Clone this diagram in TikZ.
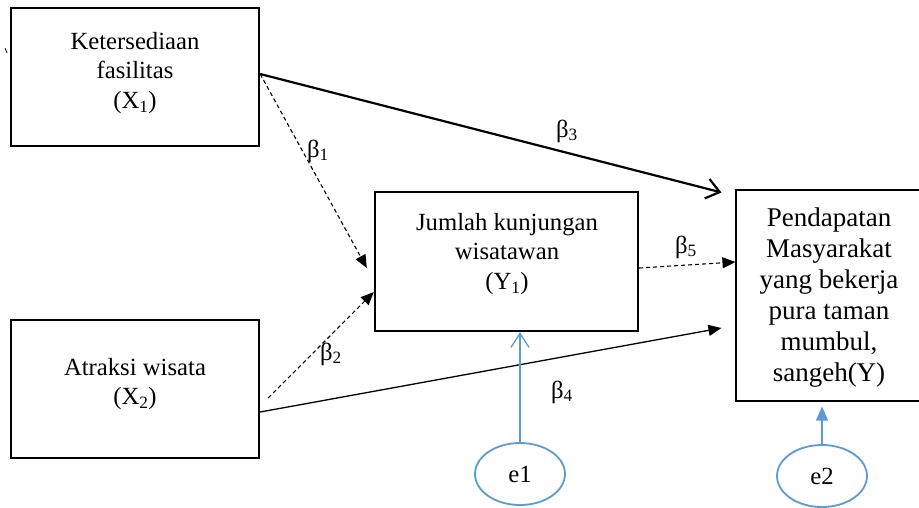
\documentclass[tikz,border=0pt]{standalone}
\usepackage{fontspec}
\setmainfont{Liberation Serif}
\usetikzlibrary{arrows.meta,shapes.geometric,calc}
\definecolor{errblue}{HTML}{5B9BD5}
\begin{document}
\begin{tikzpicture}[x=1pt,y=-1pt,
  box/.style={draw,line width=2.4pt,inner sep=0pt},
  thinbox/.style={draw,line width=1.1pt,inner sep=0pt},
  lbl/.style={align=center,inner sep=0pt,font=\fontsize{24.7}{29.5}\selectfont},
  biglbl/.style={align=center,inner sep=0pt,font=\fontsize{27}{31}\selectfont},
  coef/.style={inner sep=0pt,font=\fontsize{24.7}{29}\selectfont},
  errnode/.style={draw=errblue,ellipse,line width=1.8pt,inner sep=0pt,
    minimum width=90pt,minimum height=62pt,font=\fontsize{24.7}{29}\selectfont},
  direct/.style={line width=2.2pt,-{Straight Barb[length=13pt,width=20pt]}},
  effect/.style={line width=1.3pt,-{Triangle[length=13pt,width=11pt]}},
  indirect/.style={line width=1.1pt,dash pattern=on 4pt off 3pt,
    -{Triangle[length=13pt,width=11pt]}},
  errarrow/.style={draw=errblue,line width=1.3pt}]
\useasboundingbox (0,0) rectangle (919,507);
\clip (0,0) rectangle (919,507);

% variable boxes
\node[box,minimum width=248pt,minimum height=138pt] (x1) at (135,77) {};
\node[box,minimum width=248pt,minimum height=138pt] (x2) at (135,389) {};
\node[box,minimum width=263pt,minimum height=139pt] (y1) at (506.5,261.5) {};
\node[thinbox,minimum width=186pt,minimum height=211pt] (y) at (829,295.5) {};

% box captions
\node[lbl] (x1t) at (135,73) {Ketersediaan\\fasilitas\\(X\textsubscript{1})};
\node[lbl] (x2t) at (135,384) {Atraksi wisata\\(X\textsubscript{2})};
\node[lbl] (y1t) at (507,254) {Jumlah kunjungan\\wisatawan\\(Y\textsubscript{1})};
\node[biglbl] (yt) at (829,298) {Pendapatan\\Masyarakat\\yang bekerja\\pura taman\\mumbul,\\sangeh(Y)};

% error terms
\node[errnode] (e1) at (520,474) {e1};
\node[errnode] (e2) at (822,476) {e2};

% paths between variables
\draw[direct] ($(x1.east)+(0,-3)$) -- ($(y.north west)+(-14,3)$);
\draw[indirect] ($(x1.east)+(0,-3)$) -- ($(y1.west)+(-7,6.5)$);
\draw[indirect] ($(x2.east)+(8,9)$) -- ($(y1.west)+(0,30.5)$);
\draw[effect] ($(x2.east)+(0,23)$) -- ($(y.west)+(-14,32.5)$);
\draw[indirect] ($(y1.east)+(0,6.5)$) -- ($(y.west)+(0,-33.5)$);

% error arrows
\draw[errarrow,-{Straight Barb[length=14pt,width=18pt]}] (e1.north) -- (e1.north |- y1.south);
\draw[errarrow,-{Triangle[length=14pt,width=12pt]},shorten >=5pt] (e2.north) -- (e2.north |- y.south);

% path coefficients
\node[coef] (b1) at (318,151) {β\textsubscript{1}};
\node[coef] (b2) at (331,354) {β\textsubscript{2}};
\node[coef] (b3) at (567,131) {β\textsubscript{3}};
\node[coef] (b4) at (562,392) {β\textsubscript{4}};
\node[coef] (b5) at (686,247) {β\textsubscript{5}};

% stray pen mark at the left margin
\draw[line width=0.8pt] (5,48) -- (7,53);
\end{tikzpicture}
\end{document}
